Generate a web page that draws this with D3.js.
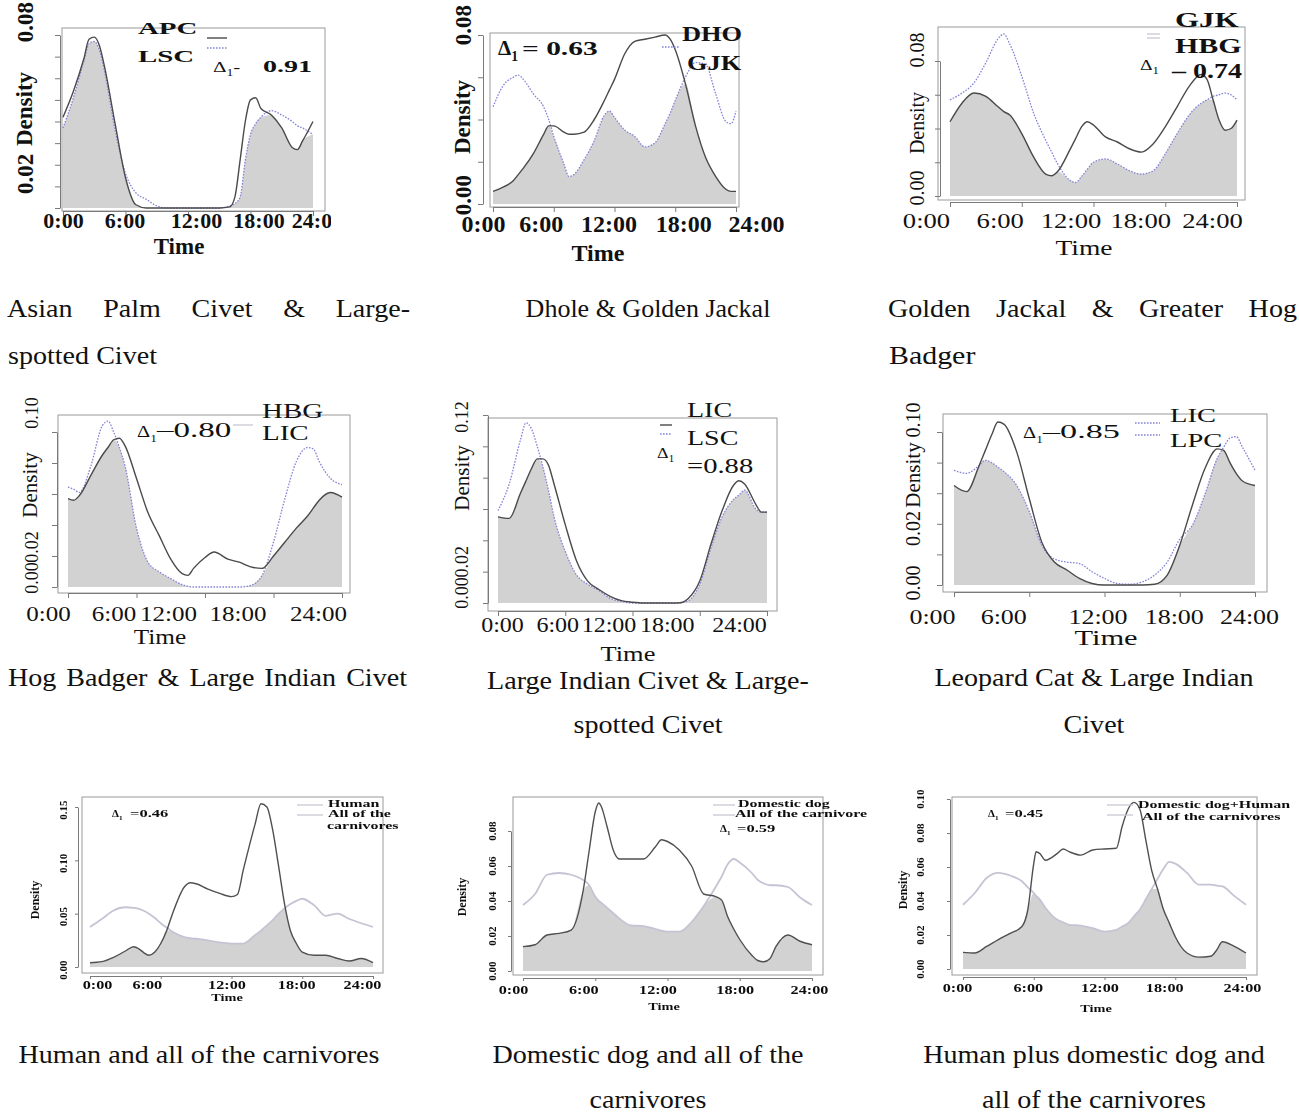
<!DOCTYPE html>
<html>
<head>
<meta charset="utf-8">
<script src="https://cdn.jsdelivr.net/npm/d3@7"></script>
<style>
  html, body { margin: 0; background: #fff; }
  svg { display: block; }
</style>
</head>
<body>
<svg id="fig" width="1299" height="1118"></svg>
<script>
// ---------------------------------------------------------------------------
// Data: kernel density of activity (density per hour) for each species pair
// ---------------------------------------------------------------------------
const timeTicks = [0, 6, 12, 18, 24];
const timeTickLabels = ["0:00", "6:00", "12:00", "18:00", "24:00"];

// Asian palm civet (APC) vs large-spotted civet (LSC)
const apcLscHours = [0,1,2,2.5,3,3.5,4,5,6,7,8,9,10,12,14,15,16,16.5,17,17.5,18,18.5,19,20,21,22,22.5,23,24];
const apcDensity  = [0.042,0.054,0.069,0.078,0.079,0.075,0.065,0.039,0.014,0.0015,0,0,0,0,0,0,0.0005,0.005,0.022,0.040,0.050,0.051,0.046,0.043,0.037,0.028,0.027,0.031,0.040];
const lscDensityA = [0.037,0.051,0.068,0.076,0.077,0.073,0.063,0.036,0.016,0.007,0.004,0.001,0,0,0,0,0.001,0.002,0.005,0.022,0.034,0.039,0.042,0.045,0.043,0.040,0.038,0.037,0.034];

// Dhole (DHO) vs golden jackal (GJK)
const dhoGjkHours = [0,1,2,2.5,3,4,5,5.5,6,7,7.5,8,9,10,11,11.5,12,13,14,15,16,17,17.5,18,19,20,21,22,23,23.5,24];
const dhoDensity  = [0.006,0.008,0.011,0.014,0.017,0.024,0.033,0.037,0.037,0.034,0.033,0.033,0.034,0.040,0.049,0.054,0.059,0.071,0.077,0.078,0.079,0.080,0.078,0.073,0.057,0.037,0.022,0.013,0.007,0.006,0.006];
const gjkDensityB = [0.046,0.056,0.060,0.061,0.059,0.052,0.046,0.040,0.032,0.019,0.013,0.014,0.021,0.030,0.042,0.044,0.041,0.035,0.032,0.027,0.029,0.038,0.043,0.049,0.060,0.067,0.066,0.052,0.039,0.038,0.044];

// Golden jackal (GJK) vs greater hog badger (HBG)
const gjkHbgHours = [0,1,2,3,4,4.5,5,6,7,8,8.5,9,10,10.5,11,11.5,12,13,14,15,16,17,18,19,20,21,21.5,22,22.5,23,23.5,24];
const gjkDensityC = [0.044,0.055,0.061,0.059,0.053,0.050,0.048,0.037,0.023,0.013,0.012,0.0145,0.027,0.034,0.041,0.044,0.042,0.035,0.032,0.028,0.026,0.031,0.041,0.053,0.065,0.072,0.069,0.057,0.045,0.039,0.040,0.045];
const hbgDensityC = [0.057,0.061,0.067,0.079,0.093,0.096,0.090,0.071,0.049,0.033,0.026,0.019,0.0095,0.008,0.0115,0.016,0.020,0.022,0.019,0.015,0.013,0.015,0.025,0.037,0.048,0.055,0.057,0.059,0.060,0.061,0.060,0.057];

// Hog badger (HBG) vs large Indian civet (LIC)
const hbgLicHours = [0,0.5,1,2,3,3.5,4,4.5,5,6,7,8,9,10,10.5,11,12,12.8,14,15,16,17,18,19,20,21,21.5,22,23,24];
const hbgDensityD = [0.057,0.056,0.059,0.072,0.085,0.090,0.095,0.096,0.091,0.070,0.048,0.033,0.018,0.0086,0.0075,0.012,0.019,0.0226,0.018,0.016,0.013,0.012,0.020,0.029,0.038,0.046,0.051,0.056,0.061,0.058];
const licDensityD = [0.0645,0.063,0.061,0.078,0.104,0.107,0.100,0.090,0.078,0.038,0.016,0.0097,0.0054,0.0015,0.0005,0,0,0,0,0,0.001,0.0075,0.029,0.057,0.081,0.090,0.089,0.081,0.070,0.066];

// Large Indian civet (LIC) vs large-spotted civet (LSC)
const licLscHours = [0,1,2,2.5,3,3.5,4,4.5,5,6,7,8,9,10,11,12,13,14,15,16,16.5,17,18,19,20,21,21.5,22,23,23.5,24];
const licDensityE = [0.055,0.054,0.070,0.078,0.086,0.092,0.092,0.088,0.076,0.050,0.027,0.014,0.0086,0.0043,0.0015,0.0005,0,0,0,0,0.0005,0.003,0.014,0.0375,0.059,0.075,0.078,0.076,0.063,0.058,0.058];
const lscDensityE = [0.059,0.076,0.104,0.115,0.111,0.100,0.087,0.072,0.055,0.033,0.018,0.012,0.008,0.003,0.001,0,0,0,0,0,0.0005,0.0015,0.012,0.035,0.055,0.066,0.069,0.072,0.060,0.058,0.058];

// Large Indian civet (LIC) vs leopard cat (LPC)
const licLpcHours = [0,1,2,2.5,3,3.5,4,5,6,7,8,9,10,11,12,13,14,15,16,17,18,19,20,21,21.5,22,22.5,23,24];
const licDensityF = [0.065,0.061,0.078,0.088,0.098,0.1065,0.105,0.087,0.0565,0.028,0.015,0.0098,0.0043,0.001,0,0,0,0,0.0005,0.0065,0.026,0.052,0.076,0.089,0.088,0.080,0.073,0.068,0.065];
const lpcDensityF = [0.075,0.073,0.078,0.0815,0.080,0.077,0.074,0.065,0.048,0.026,0.017,0.015,0.014,0.0087,0.0043,0.001,0.0005,0.002,0.0065,0.015,0.030,0.039,0.059,0.083,0.090,0.096,0.097,0.090,0.075];

// Human vs all carnivores
const humanHours    = [0,1,2,3,3.7,4,5,5.5,6,6.5,7,8,8.5,9,10,11,12,12.5,13,14,14.5,15,15.5,16,16.5,17,17.5,18,19,20,21,22,23,24];
const humanDensity  = [0.004,0.005,0.009,0.015,0.019,0.018,0.011,0.014,0.022,0.034,0.050,0.075,0.079,0.078,0.073,0.069,0.066,0.068,0.091,0.134,0.153,0.150,0.128,0.094,0.059,0.034,0.022,0.014,0.011,0.011,0.008,0.0056,0.008,0.004];
const carnDensityG  = [0.0375,0.045,0.053,0.056,0.0555,0.055,0.050,0.046,0.041,0.037,0.033,0.028,0.027,0.0265,0.025,0.023,0.022,0.022,0.022,0.030,0.034,0.039,0.044,0.050,0.055,0.059,0.062,0.064,0.058,0.048,0.050,0.045,0.041,0.0375];

// Domestic dog vs all carnivores
const dogHours      = [0,1,2,3,4,5,5.5,6,6.3,6.5,7,7.5,8,9,10,11,11.5,12,13,14,15,16,16.5,17,17.5,18,19,19.5,20,20.5,21,22,23,24];
const dogDensity    = [0.0139,0.015,0.0206,0.0215,0.0234,0.046,0.069,0.091,0.096,0.094,0.082,0.069,0.064,0.064,0.064,0.071,0.075,0.074,0.069,0.060,0.044,0.0425,0.0405,0.031,0.024,0.018,0.009,0.006,0.0053,0.007,0.0139,0.0206,0.017,0.015];
const carnDensityH  = [0.0377,0.044,0.055,0.056,0.055,0.052,0.049,0.0425,0.040,0.039,0.036,0.033,0.030,0.026,0.0257,0.024,0.023,0.0225,0.0225,0.028,0.037,0.048,0.054,0.061,0.064,0.062,0.056,0.052,0.050,0.049,0.049,0.048,0.042,0.0377];

// Domestic dog + human vs all carnivores
const dogHumanHours   = [0,1,2,3,4,5,5.5,6,6.2,6.5,7,8,8.5,9,10,11,12,13,13.5,14,14.5,15,15.5,16,16.5,17,17.5,18,19,20,21,21.5,22,23,24];
const dogHumanDensity = [0.0098,0.0094,0.0133,0.0173,0.021,0.025,0.035,0.062,0.069,0.068,0.064,0.068,0.0706,0.069,0.067,0.070,0.0706,0.071,0.084,0.094,0.098,0.094,0.076,0.058,0.047,0.035,0.027,0.019,0.0094,0.007,0.0075,0.011,0.016,0.0133,0.0094];
const carnDensityI    = [0.0378,0.0447,0.0535,0.0565,0.055,0.0516,0.048,0.0447,0.043,0.041,0.0359,0.029,0.0275,0.026,0.0255,0.024,0.022,0.023,0.025,0.027,0.031,0.035,0.041,0.047,0.053,0.059,0.063,0.062,0.0565,0.0496,0.0496,0.049,0.0486,0.043,0.0378];

// Coefficient of overlap (Delta 1) for each pair
const overlapCoef = [0.91, 0.63, 0.74, 0.80, 0.88, 0.85, 0.46, 0.59, 0.45];

// Legend entries (one string per legend line)
const legendNames = [
  ["APC", "LSC"],
  ["DHO", "GJK"],
  ["GJK", "HBG"],
  ["HBG", "LIC"],
  ["LIC", "LSC"],
  ["LIC", "LPC"],
  ["Human", "All of the", "carnivores"],
  ["Domestic dog", "All of the carnivore"],
  ["Domestic dog+Human", "All of the carnivores"]
];

// Y tick marks and labelled ticks
const yTickSets = [
  [0,0.01,0.02,0.03,0.04,0.05,0.06,0.07,0.08],
  [0,0.02,0.04,0.06,0.08],
  [0,0.02,0.04,0.06,0.08],
  [0,0.02,0.04,0.06,0.08,0.10],
  [0,0.02,0.04,0.06,0.08,0.10,0.12],
  [0,0.02,0.04,0.06,0.08,0.10],
  [0,0.05,0.10,0.15],
  [0,0.02,0.04,0.06,0.08],
  [0,0.02,0.04,0.06,0.08,0.10]
];
const yLabelSets = [
  [0.02, 0.08],
  [0, 0.08],
  [0, 0.08],
  [0, 0.02, 0.10],
  [0, 0.02, 0.12],
  [0, 0.02, 0.10],
  [0, 0.05, 0.10, 0.15],
  [0, 0.02, 0.04, 0.06, 0.08],
  [0, 0.02, 0.04, 0.06, 0.08, 0.10]
];

// Captions under each panel
const captionLines = [
  ["Asian Palm Civet & Large-", "spotted Civet"],
  ["Dhole & Golden Jackal"],
  ["Golden Jackal & Greater Hog", "Badger"],
  ["Hog Badger & Large Indian Civet"],
  ["Large Indian Civet & Large-", "spotted Civet"],
  ["Leopard Cat & Large Indian", "Civet"],
  ["Human and all of the carnivores"],
  ["Domestic dog and all of the", "carnivores"],
  ["Human plus domestic dog and", "all of the carnivores"]
];

const seriesSets = [
  [apcLscHours, apcDensity, lscDensityA],
  [dhoGjkHours, dhoDensity, gjkDensityB],
  [gjkHbgHours, gjkDensityC, hbgDensityC],
  [hbgLicHours, hbgDensityD, licDensityD],
  [licLscHours, licDensityE, lscDensityE],
  [licLpcHours, licDensityF, lpcDensityF],
  [humanHours, humanDensity, carnDensityG],
  [dogHours, dogDensity, carnDensityH],
  [dogHumanHours, dogHumanDensity, carnDensityI]
];

// ---------------------------------------------------------------------------
// Layout: where each small plot sits and how its text is set
// ---------------------------------------------------------------------------
const layouts = [
  { clip:[0,0,331,262], box:[62,28,325,211], xr:[63,313], yBase:208, yTopPx:35, yTopVal:0.08,
    xAxisY:211, yAxisX:60, tick:5, style:"top",
    yLab:{x:25, size:23, bold:true, dy:[9,-13]},
    xLab:{y:228, size:22, bold:true, sx:1, dx:[0,-1,8,8,4]},
    time:{x:179, y:254, size:23, bold:true},
    dens:{x:24, y:109, size:23, bold:true},
    names:[{x:138,y:34,size:17,bold:true,sx:1.7},{x:138,y:62,size:17,bold:true,sx:1.7}],
    keys:[[207,227,38,"a"],[207,227,48,"b"]],
    sym:{x:213,y:72,size:15,sx:1.4,tail:"-"},
    val:{x:263,y:72,size:17,bold:true,sx:1.65,pre:""},
    cap:{x0:7, x1:410, y:[317,364], first:"justify", rest:"left", lx:8} },

  { clip:[430,0,800,265], box:[490,33,739,207], xr:[493,736], yBase:204, yTopPx:35, yTopVal:0.08,
    xAxisY:207, yAxisX:483, tick:5, style:"top",
    yLab:{x:463, size:23, bold:true, dy:[-9,-10]},
    xLab:{y:232, size:24, bold:true, sx:1, dx:[-10,-13,-6,8,20]},
    time:{x:598, y:261, size:24, bold:true},
    dens:{x:462, y:117, size:23, bold:true},
    names:[{x:682,y:41,size:22,bold:true,sx:1.2},{x:687,y:70,size:22,bold:true,sx:1.2}],
    keys:[[662,679,47,"b"]],
    sym:{x:498,y:55,size:21,bold:true},
    val:{x:522,y:55,size:19,bold:true,sx:1.55,pre:"= "},
    cap:{cx:648, y:[317,364], first:"center", size:26, sx:1.0} },

  { clip:[880,0,1299,265], box:[938,27,1245,200], xr:[950,1237], yBase:196, yTopPx:61, yTopVal:0.08,
    xAxisY:202, yAxisX:940, tick:5, style:"top",
    yLab:{x:917, size:20, bold:false, dy:[-8,-11]},
    xLab:{y:228, size:20, bold:false, sx:1.33, dx:[-24,-22,-23,-25,-25]},
    time:{x:1084, y:255, size:22, sx:1.25},
    dens:{x:917, y:123, size:20},
    names:[{x:1175,y:27,size:20,bold:true,sx:1.55},{x:1175,y:53,size:20,bold:true,sx:1.5}],
    keys:[[1147,1160,34,"faint"],[1147,1160,38,"faint"]],
    sym:{x:1140,y:70,size:15,sx:1.3},
    val:{x:1172,y:78,size:20,bold:true,sx:1.4,pre:"– "},
    cap:{x0:888, x1:1297, y:[317,364], first:"justify", rest:"left", lx:889, sx2:1.15} },

  { clip:[0,385,430,660], box:[58,415,350,593], xr:[68,342], yBase:587, yTopPx:432, yTopVal:0.10,
    xAxisY:593, yAxisX:57, tick:5, style:"top",
    yLab:{x:32, size:18, dy:[-9,-9,-19]},
    xLab:{y:621, size:20, sx:1.25, dx:[-20,-23,-37,-36,-24]},
    time:{x:160, y:644, size:22, sx:1.15},
    dens:{x:30, y:485, size:21},
    names:[{x:262,y:418,size:20,sx:1.45},{x:262,y:440,size:20,sx:1.45}],
    keys:[[233,253,425,"faint"]],
    sym:{x:137,y:437,size:17,sx:1.2},
    val:{x:157,y:437,size:20,sx:1.65,pre:"–"},
    cap:{x0:8, x1:407, y:[686,733], first:"justify"} },

  { clip:[430,385,860,690], box:[488,418,777,611], xr:[498,767], yBase:603, yTopPx:415, yTopVal:0.12,
    xAxisY:611, yAxisX:488, tick:5, style:"top",
    yLab:{x:462, size:18, dy:[-10,-10,2]},
    xLab:{y:632, size:20, sx:1.2, dx:[4,-8,-24,-33,-28]},
    time:{x:628, y:661, size:22, sx:1.2},
    dens:{x:462, y:478, size:21},
    names:[{x:687,y:417,size:20,sx:1.4},{x:687,y:445,size:20,sx:1.4}],
    keys:[[660,672,425,"a"],[660,672,434,"b"]],
    sym:{x:657,y:458,size:15,sx:1.2},
    val:{x:687,y:473,size:20,sx:1.43,pre:"="},
    cap:{cx:648, y:[689,733], first:"center", rest:"center"} },

  { clip:[880,385,1299,660], box:[943,414,1267,592], xr:[954,1255], yBase:585, yTopPx:432, yTopVal:0.10,
    xAxisY:592, yAxisX:942, tick:5, style:"top",
    yLab:{x:913, size:20, dy:[-2,-26,-12]},
    xLab:{y:624, size:20, sx:1.3, dx:[-22,-26,-7,-6,-6]},
    time:{x:1106, y:645, size:21, sx:1.45},
    dens:{x:913, y:475, size:21},
    names:[{x:1170,y:422,size:19,sx:1.5},{x:1170,y:447,size:19,sx:1.5}],
    keys:[[1135,1160,423,"b"],[1135,1160,435,"b"]],
    sym:{x:1023,y:438,size:17,sx:1.2},
    val:{x:1043,y:438,size:19,sx:1.8,pre:"–"},
    cap:{cx:1094, y:[686,733], first:"center", rest:"center"} },

  { clip:[0,790,430,1015], box:[82,797,383,973], xr:[90,373], yBase:967, yTopPx:807, yTopVal:0.15,
    xAxisY:976, yAxisX:78, tick:3, style:"bottom",
    yLab:{x:63, size:11, bold:true, dy:[3,3,3,3]},
    xLab:{y:989, size:12, bold:true, sx:1.35, dx:[7,-14,-5,-6,-11]},
    time:{x:227, y:1001, size:11, bold:true, sx:1.3},
    dens:{x:35, y:900, size:12, bold:true},
    names:[{x:328,y:807,size:11,bold:true,sx:1.45},{x:328,y:817,size:11,bold:true,sx:1.45},{x:327,y:829,size:11,bold:true,sx:1.45}],
    keys:[[297,323,805,"faint"],[297,323,815,"faint"]],
    sym:{x:112,y:817,size:11,bold:true},
    val:{x:130,y:817,size:11,bold:true,sx:1.5,pre:"="},
    cap:{cx:199, y:[1063,1108], first:"center"} },

  { clip:[430,790,875,1015], box:[513,797,823,975], xr:[523,812], yBase:971, yTopPx:831, yTopVal:0.08,
    xAxisY:978, yAxisX:511, tick:3, style:"bottom",
    yLab:{x:492, size:11, bold:true, dy:[0,0,0,0,0]},
    xLab:{y:994, size:12, bold:true, sx:1.35, dx:[-10,-12,-10,-5,-3]},
    time:{x:664, y:1010, size:11, bold:true, sx:1.3},
    dens:{x:462, y:897, size:12, bold:true},
    names:[{x:738,y:807,size:11,bold:true,sx:1.45},{x:735,y:817,size:11,bold:true,sx:1.45}],
    keys:[[713,735,805,"faint"],[713,735,815,"faint"]],
    sym:{x:720,y:832,size:11,bold:true},
    val:{x:737,y:832,size:11,bold:true,sx:1.5,pre:"="},
    cap:{cx:648, y:[1063,1108], first:"center", rest:"center"} },

  { clip:[875,790,1299,1015], box:[952,797,1257,975], xr:[963,1246], yBase:969, yTopPx:799, yTopVal:0.10,
    xAxisY:977, yAxisX:950, tick:3, style:"bottom",
    yLab:{x:920, size:11, bold:true, dy:[0,0,0,0,0,0]},
    xLab:{y:992, size:12, bold:true, sx:1.35, dx:[-6,-6,-5,-11,-4]},
    time:{x:1096, y:1012, size:11, bold:true, sx:1.3},
    dens:{x:903, y:890, size:12, bold:true},
    names:[{x:1138,y:808,size:11,bold:true,sx:1.45},{x:1142,y:820,size:11,bold:true,sx:1.45}],
    keys:[[1107,1133,805,"faint"],[1107,1133,815,"faint"]],
    sym:{x:988,y:817,size:11,bold:true},
    val:{x:1005,y:817,size:11,bold:true,sx:1.5,pre:"="},
    cap:{cx:1094, y:[1063,1108], first:"center", rest:"center"} }
];

const lineStyles = {
  top:    { a:{stroke:"#4a4a4a", width:1.4, dash:null}, b:{stroke:"#8484d8", width:1.3, dash:"1.6,1.4"} },
  bottom: { a:{stroke:"#505050", width:1.4, dash:null}, b:{stroke:"#c4c4d4", width:1.8, dash:null} }
};
const fillColor = "#d2d2d2";
const boxColor = "#9a9a9a";
const axisColor = "#7a7a7a";
const serif = "'Liberation Serif','Times New Roman',Times,serif";
const fmt2 = d3.format(".2f");

// ---------------------------------------------------------------------------
// Helpers
// ---------------------------------------------------------------------------
const svg = d3.select("#fig");
const defs = svg.append("defs");
defs.append("filter").attr("id", "soft").attr("x", "-5%").attr("y", "-5%").attr("width", "110%").attr("height", "110%")
  .append("feGaussianBlur").attr("stdDeviation", 0.65);

function stretch(sel, sx) {
  if (!sx || sx === 1) return;
  sel.each(function () {
    const w = this.getComputedTextLength();
    d3.select(this).attr("textLength", w * sx).attr("lengthAdjust", "spacingAndGlyphs");
  });
}

function addText(g, str, o) {
  const t = g.append("text")
    .attr("x", o.x).attr("y", o.y)
    .attr("font-family", serif)
    .attr("font-size", o.size)
    .attr("font-weight", o.bold ? "bold" : "normal")
    .attr("text-anchor", o.anchor || "start")
    .attr("fill", o.fill || "#111")
    .text(str);
  if (o.rot) {
    t.attr("transform", `rotate(${o.rot},${o.x},${o.y})`).attr("dominant-baseline", "central");
  }
  stretch(t, o.sx);
  return t;
}

// Greek Delta with subscript 1
function deltaSymbol(g, o) {
  const t = g.append("text")
    .attr("x", o.x).attr("y", o.y)
    .attr("font-family", serif).attr("font-size", o.size)
    .attr("font-weight", o.bold ? "bold" : "normal").attr("fill", "#111");
  t.append("tspan").text("Δ");
  t.append("tspan").attr("font-size", o.size * 0.65).attr("dy", o.size * 0.28).text("1");
  if (o.tail) t.append("tspan").attr("dy", -o.size * 0.28).text(o.tail);
  stretch(t, o.sx);
}

// Justified caption line: words spread evenly between x0 and x1
function justifyLine(g, str, x0, x1, y, size, sx) {
  const words = str.split(" ");
  const nodes = words.map(w => g.append("text")
    .attr("y", y).attr("font-family", serif).attr("font-size", size).attr("fill", "#111").text(w));
  const widths = nodes.map(n => n.node().getComputedTextLength() * sx);
  const total = d3.sum(widths);
  const gap = words.length > 1 ? (x1 - x0 - total) / (words.length - 1) : 0;
  let cx = x0;
  nodes.forEach((n, i) => {
    n.attr("x", cx).attr("textLength", widths[i]).attr("lengthAdjust", "spacingAndGlyphs");
    cx += widths[i] + gap;
  });
}

const captionSize = 26, captionSx = 1.08;

// ---------------------------------------------------------------------------
// Draw each panel
// ---------------------------------------------------------------------------
layouts.forEach((L, pi) => {
  const [hours, seriesA, seriesB] = seriesSets[pi];
  const styles = lineStyles[L.style];

  defs.append("clipPath").attr("id", "clip" + pi)
    .append("rect").attr("x", L.clip[0]).attr("y", L.clip[1])
    .attr("width", L.clip[2] - L.clip[0]).attr("height", L.clip[3] - L.clip[1]);

  const g = svg.append("g").attr("clip-path", `url(#clip${pi})`);
  if (L.style === "bottom") g.attr("filter", "url(#soft)");

  const x = d3.scaleLinear().domain([0, 24]).range(L.xr);
  const y = d3.scaleLinear().domain([0, L.yTopVal]).range([L.yBase, L.yTopPx]);

  const pts = hours.map((h, i) => ({ h, a: seriesA[i], b: seriesB[i] }));

  // overlap region: minimum of the two densities
  const area = d3.area()
    .x(d => x(d.h)).y0(y(0)).y1(d => y(Math.min(d.a, d.b)))
    .curve(d3.curveMonotoneX);
  g.append("path").datum(pts).attr("d", area).attr("fill", fillColor);

  // plot frame
  g.append("rect")
    .attr("x", L.box[0]).attr("y", L.box[1])
    .attr("width", L.box[2] - L.box[0]).attr("height", L.box[3] - L.box[1])
    .attr("fill", "none").attr("stroke", boxColor).attr("stroke-width", 1);

  // x axis
  const gx = g.append("g").attr("transform", `translate(0,${L.xAxisY})`)
    .call(d3.axisBottom(x).tickValues(timeTicks)
      .tickFormat((d, i) => timeTickLabels[i]).tickSize(L.tick).tickSizeOuter(0));
  gx.attr("color", axisColor).attr("font-family", serif)
    .attr("font-size", L.xLab.size).attr("font-weight", L.xLab.bold ? "bold" : "normal");
  gx.selectAll(".tick text")
    .attr("fill", "#111").attr("y", L.xLab.y - L.xAxisY).attr("dy", null)
    .attr("dx", (d, i) => L.xLab.dx[i]);
  stretch(gx.selectAll(".tick text"), L.xLab.sx);

  // y axis
  const gy = g.append("g").attr("transform", `translate(${L.yAxisX},0)`)
    .call(d3.axisLeft(y).tickValues(yTickSets[pi]).tickFormat("").tickSize(L.tick).tickSizeOuter(0));
  gy.attr("color", axisColor);

  yLabelSets[pi].forEach((v, i) => {
    addText(g, fmt2(v), { x: L.yLab.x, y: y(v) + L.yLab.dy[i], size: L.yLab.size,
      bold: L.yLab.bold, anchor: "middle", rot: -90 });
  });

  addText(g, "Time", { x: L.time.x, y: L.time.y, size: L.time.size, bold: L.time.bold,
    anchor: "middle", sx: L.time.sx });
  addText(g, "Density", { x: L.dens.x, y: L.dens.y, size: L.dens.size, bold: L.dens.bold,
    anchor: "middle", rot: -90 });

  // density curves
  const lineA = d3.line().x(d => x(d.h)).y(d => y(d.a)).curve(d3.curveMonotoneX);
  const lineB = d3.line().x(d => x(d.h)).y(d => y(d.b)).curve(d3.curveMonotoneX);
  g.append("path").datum(pts).attr("d", lineB).attr("fill", "none")
    .attr("stroke", styles.b.stroke).attr("stroke-width", styles.b.width)
    .attr("stroke-dasharray", styles.b.dash);
  g.append("path").datum(pts).attr("d", lineA).attr("fill", "none")
    .attr("stroke", styles.a.stroke).attr("stroke-width", styles.a.width);

  // legend keys
  L.keys.forEach(([x0, x1, ky, kind]) => {
    const s = kind === "a" ? styles.a : kind === "b" ? styles.b : { stroke: "#c8c8d6", width: 1.3, dash: null };
    g.append("line").attr("x1", x0).attr("x2", x1).attr("y1", ky).attr("y2", ky)
      .attr("stroke", s.stroke).attr("stroke-width", s.width).attr("stroke-dasharray", s.dash);
  });

  // legend names
  legendNames[pi].forEach((name, i) => {
    const o = L.names[i];
    addText(g, name, { x: o.x, y: o.y, size: o.size, bold: o.bold, sx: o.sx });
  });

  // overlap coefficient
  deltaSymbol(g, L.sym);
  addText(g, L.val.pre + fmt2(overlapCoef[pi]), { x: L.val.x, y: L.val.y, size: L.val.size,
    bold: L.val.bold, sx: L.val.sx });

  // caption
  const C = L.cap;
  const cg = svg.append("g");
  const cSize = C.size || captionSize;
  const cSx = C.sx || captionSx;
  captionLines[pi].forEach((ln, i) => {
    const mode = i === 0 ? C.first : C.rest;
    const sx = i === 0 ? cSx : (C.sx2 || cSx);
    if (mode === "justify") {
      justifyLine(cg, ln, C.x0, C.x1, C.y[i], cSize, sx);
    } else if (mode === "left") {
      addText(cg, ln, { x: C.lx, y: C.y[i], size: cSize, sx });
    } else {
      addText(cg, ln, { x: C.cx, y: C.y[i], size: cSize, sx, anchor: "middle" });
    }
  });
});
</script>
</body>
</html>
